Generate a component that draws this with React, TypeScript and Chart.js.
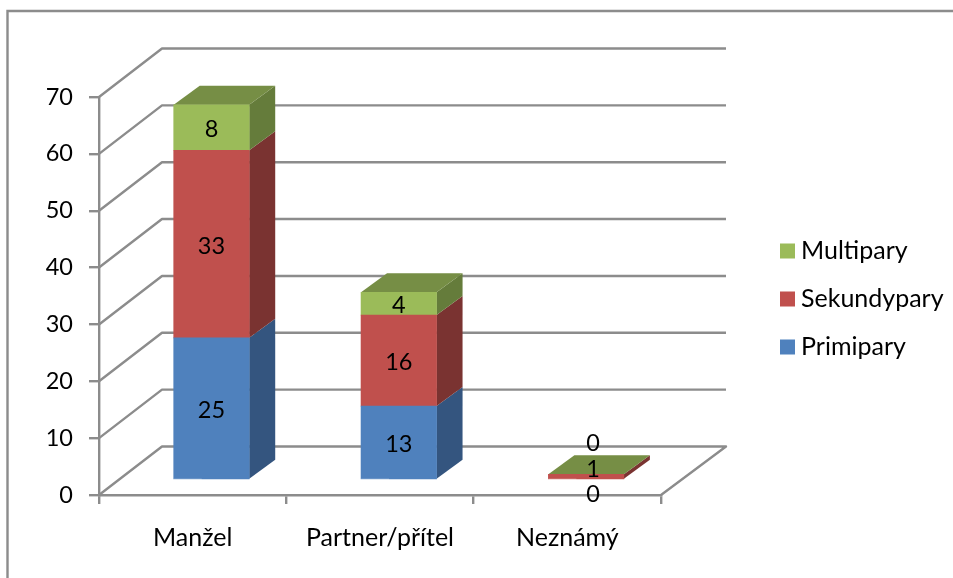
import React, { useEffect, useRef } from "react";
import { Chart, registerables } from "chart.js";

Chart.register(...registerables);

const categories = ["Manžel", "Partner/přítel", "Neznámý"];
const primipary = [25, 13, 0];
const sekundypary = [33, 16, 1];
const multipary = [8, 4, 0];
const yTicks = [0, 10, 20, 30, 40, 50, 60, 70];

const FONT = "Lato";
const TEXT_SIZE = 25;
const NUMBER_SIZE = 23.5;
const LINE = "#8c8c8c";
const LINE_WIDTH = 2.4;

const FRONT = ["#4F81BD", "#C0504D", "#9BBB59"];
const SIDE = ["#34557F", "#7A3331", "#657C3B"];
const TOP = "#768E45";

// Pseudo-3D projection: depth of the walls, of the bars' front plane, and of the bars themselves.
const WALL_DX = 63;
const WALL_DY = -48.5;
const BAR_DX = 18.8;
const BAR_DY = -15;
const BOX_DX = 26;
const BOX_DY = -19;

function face(ctx: CanvasRenderingContext2D, pts: number[][], color: string) {
  ctx.fillStyle = color;
  ctx.beginPath();
  pts.forEach(([x, y], i) => (i ? ctx.lineTo(x, y) : ctx.moveTo(x, y)));
  ctx.closePath();
  ctx.fill();
}

const depthPlugin = {
  id: "depth",
  beforeDraw(chart: any) {
    const { ctx, width, height } = chart;
    ctx.save();
    ctx.strokeStyle = LINE;
    ctx.lineWidth = LINE_WIDTH;
    ctx.beginPath();
    ctx.moveTo(7.5, height);
    ctx.lineTo(7.5, 11);
    ctx.lineTo(width, 11);
    ctx.stroke();
    ctx.restore();
  },
  beforeDatasetsDraw(chart: any) {
    const { ctx, scales, chartArea } = chart;
    const { left, right } = chartArea;
    // Side wall, back wall and floor lines
    ctx.save();
    ctx.strokeStyle = LINE;
    ctx.lineWidth = LINE_WIDTH;
    ctx.lineJoin = "round";
    yTicks.forEach((v) => {
      const y = scales.y.getPixelForValue(v);
      ctx.beginPath();
      ctx.moveTo(left, y);
      ctx.lineTo(left + WALL_DX, y + WALL_DY);
      ctx.lineTo(right + WALL_DX + 2, y + WALL_DY);
      if (v === 0) ctx.lineTo(right, y);
      ctx.stroke();
    });
    ctx.restore();

    // Side and top faces, shifted together with the bars into the depth plane
    ctx.save();
    ctx.translate(BAR_DX, BAR_DY);
    const topByColumn: Record<number, any> = {};
    chart.data.datasets.forEach((ds: any, d: number) => {
      chart.getDatasetMeta(d).data.forEach((bar: any, i: number) => {
        if (ds.data[i] === 0) return;
        const r = bar.x + bar.width / 2;
        face(
          ctx,
          [
            [r, bar.base],
            [r + BOX_DX, bar.base + BOX_DY],
            [r + BOX_DX, bar.y + BOX_DY],
            [r, bar.y],
          ],
          SIDE[d]
        );
        topByColumn[i] = bar;
      });
    });
    Object.values(topByColumn).forEach((bar: any) => {
      const l = bar.x - bar.width / 2;
      const r = bar.x + bar.width / 2;
      face(
        ctx,
        [
          [l, bar.y],
          [l + BOX_DX, bar.y + BOX_DY],
          [r + BOX_DX, bar.y + BOX_DY],
          [r, bar.y],
        ],
        TOP
      );
    });
    ctx.restore();

    ctx.save();
    ctx.translate(BAR_DX, BAR_DY);
  },
  afterDatasetsDraw(chart: any) {
    const { ctx, scales } = chart;

    // Pale highlight along the left part of each column's bottom edge
    const base = scales.y.getPixelForValue(0);
    ctx.fillStyle = "rgba(255,255,255,0.28)";
    chart.getDatasetMeta(0).data.forEach((bar: any) => {
      ctx.fillRect(bar.x - bar.width / 2, base - 1.5, 28, 1.5);
    });
    ctx.restore();

    // Value labels; those on empty or very thin segments sit off-centre, clear of the bar
    ctx.save();
    ctx.font = `${NUMBER_SIZE}px ${FONT}`;
    ctx.fillStyle = "#000";
    ctx.textAlign = "center";
    ctx.textBaseline = "middle";
    const last = chart.data.datasets.length - 1;
    chart.data.datasets.forEach((ds: any, d: number) => {
      chart.getDatasetMeta(d).data.forEach((bar: any, i: number) => {
        const value = ds.data[i];
        let x = bar.x + BAR_DX;
        let y = (bar.y + bar.base) / 2 + BAR_DY + 2;
        if (value === 0) {
          y += d === last ? -33 : 12;
          x += 7;
        } else if (bar.base - bar.y < 10) {
          y -= 9;
          x += 7;
        }
        ctx.fillText(String(value), x, y);
      });
    });

    // Legend, last series on top
    const rows = [
      { label: chart.data.datasets[2].label, color: FRONT[2], y: 251 },
      { label: chart.data.datasets[1].label, color: FRONT[1], y: 299 },
      { label: chart.data.datasets[0].label, color: FRONT[0], y: 347 },
    ];
    ctx.font = `${TEXT_SIZE}px ${FONT}`;
    ctx.textAlign = "left";
    rows.forEach((row) => {
      ctx.fillStyle = row.color;
      ctx.fillRect(780, row.y - 7.5, 15, 15);
      ctx.fillStyle = "#000";
      ctx.fillText(row.label, 801, row.y);
    });
    ctx.restore();
  },
};

export default function App() {
  const canvasRef = useRef<HTMLCanvasElement>(null);

  useEffect(() => {
    const series = [
      { label: "Primipary", data: primipary },
      { label: "Sekundypary", data: sekundypary },
      { label: "Multipary", data: multipary },
    ];
    const chart = new Chart(canvasRef.current!, {
      type: "bar",
      data: {
        labels: categories,
        datasets: series.map((s, i) => ({
          ...s,
          backgroundColor: s.data.map((v) => (v === 0 ? "rgba(0,0,0,0)" : FRONT[i])),
          barThickness: 75.5,
          clip: false,
        })),
      },
      options: {
        responsive: false,
        animation: false,
        layout: { padding: { left: 0, right: 292, top: 97, bottom: 23 } },
        plugins: {
          legend: { display: false },
          tooltip: { enabled: false },
          title: { display: false },
        },
        scales: {
          x: {
            stacked: true,
            afterFit: (s: any) => {
              s.height = 60;
            },
            border: { color: LINE, width: LINE_WIDTH },
            grid: { drawOnChartArea: false, color: LINE, lineWidth: LINE_WIDTH, tickLength: 9 },
            ticks: {
              color: "#000",
              padding: 19,
              maxRotation: 0,
              font: { family: FONT, size: TEXT_SIZE },
            },
          },
          y: {
            stacked: true,
            min: 0,
            max: 70,
            afterFit: (s: any) => {
              s.width = 99;
            },
            border: { color: LINE, width: LINE_WIDTH },
            grid: { drawOnChartArea: false, color: LINE, lineWidth: LINE_WIDTH, tickLength: 10 },
            ticks: {
              stepSize: 10,
              color: "#000",
              padding: 16,
              font: { family: FONT, size: NUMBER_SIZE },
            },
          },
        },
      },
      plugins: [depthPlugin],
    } as any);
    return () => chart.destroy();
  }, []);

  return (
    <div style={{ position: "fixed", left: 0, top: 0, width: 953, height: 578, background: "#fff" }}>
      <canvas ref={canvasRef} width={953} height={578} style={{ display: "block" }} />
    </div>
  );
}
